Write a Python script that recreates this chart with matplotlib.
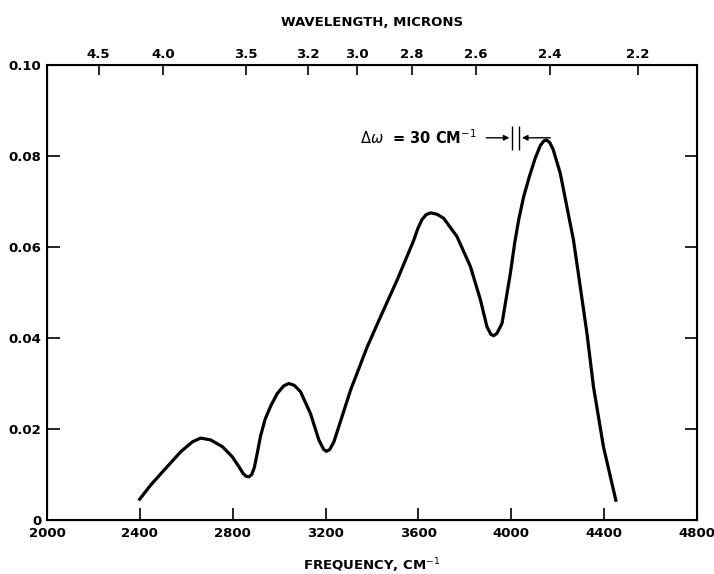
import matplotlib
matplotlib.use("Agg")
import matplotlib.pyplot as plt

# Data
freq = [2395, 2447, 2505, 2576, 2627, 2662, 2705, 2756, 2798, 2827, 2845, 2858, 2870, 2882,
        2893, 2905, 2920, 2940, 2965, 2992, 3020, 3042, 3065, 3092, 3135, 3171, 3192, 3204,
        3218, 3236, 3308, 3379, 3437, 3508, 3580, 3597, 3615, 3633, 3652, 3680, 3709, 3766,
        3824, 3867, 3895, 3912, 3924, 3938, 3960, 3996, 4015, 4032, 4053, 4078, 4103, 4125,
        4140, 4152, 4165, 4180, 4211, 4268, 4297, 4326, 4354, 4397, 4452]
absorb = [0.0043, 0.0077, 0.0110, 0.0150, 0.0172, 0.0180, 0.0176, 0.0161, 0.0139, 0.0117,
          0.0102, 0.0096, 0.0095, 0.0100, 0.0115, 0.0145, 0.0185, 0.0222, 0.0252, 0.0278,
          0.0295, 0.0300, 0.0296, 0.0282, 0.0234, 0.0176, 0.0155, 0.0151, 0.0155, 0.0172,
          0.0286, 0.0380, 0.0447, 0.0527, 0.0615, 0.0640, 0.0660, 0.0671, 0.0675, 0.0672,
          0.0663, 0.0623, 0.0557, 0.0484, 0.0425, 0.0408, 0.0405, 0.0410, 0.0432, 0.0542,
          0.0610, 0.0660, 0.0710, 0.0755, 0.0795, 0.0823, 0.0833, 0.0835, 0.0830, 0.0815,
          0.0762, 0.0615, 0.0513, 0.0410, 0.0293, 0.0161, 0.0040]

x_ticks = [2000, 2400, 2800, 3200, 3600, 4000, 4400, 4800]
y_ticks = [0, 0.02, 0.04, 0.06, 0.08, 0.10]
y_tick_labels = ["0", "0.02", "0.04", "0.06", "0.08", "0.10"]
wavelengths = [4.5, 4.0, 3.5, 3.2, 3.0, 2.8, 2.6, 2.4, 2.2]
wavelength_labels = ["4.5", "4.0", "3.5", "3.2", "3.0", "2.8", "2.6", "2.4", "2.2"]

plt.rcParams['font.family'] = ['DejaVu Sans']
FS = 9.5

fig = plt.figure(figsize=(7.14, 5.74), dpi=100)
ax = fig.add_axes([47/714, 1 - 520/574, (697 - 47)/714, (520 - 65)/574])

ax.plot(freq, absorb, color="black", lw=2.3, solid_capstyle="butt", solid_joinstyle="round")

ax.set_xlim(2000, 4800)
ax.set_ylim(0, 0.10)
ax.set_xticks(x_ticks)
ax.set_xticklabels([str(v) for v in x_ticks], fontsize=FS, fontweight="bold")
ax.set_yticks(y_ticks)
ax.set_yticklabels(y_tick_labels, fontsize=FS, fontweight="bold")
ax.tick_params(axis="both", direction="in", length=9, width=1.2)
ax.tick_params(axis="x", pad=5)
ax.tick_params(axis="y", right=True, pad=4)
for s in ax.spines.values():
    s.set_linewidth(1.5)

ax.set_xlabel("FREQUENCY, CM$^{-1}$", fontsize=FS, fontweight="bold", labelpad=12)

top = ax.twiny()
top.set_xlim(ax.get_xlim())
top.set_xticks([10000.0 / w for w in wavelengths])
top.set_xticklabels(wavelength_labels, fontsize=FS, fontweight="bold")
top.tick_params(axis="x", direction="in", length=7, width=1.2, pad=3)
top.set_xlabel("WAVELENGTH, MICRONS", fontsize=FS, fontweight="bold", labelpad=16)

# Resolution annotation
ax.text(3350, 0.0840, "$\\Delta\\omega$  = 30 CM$^{-1}$", fontsize=10.5,
        fontweight="bold", va="center", ha="left")
ax.annotate("", xy=(4004, 0.0840), xytext=(3880, 0.0840),
            arrowprops=dict(arrowstyle="-|>", color="black", lw=1.0, mutation_scale=8))
ax.annotate("", xy=(4034, 0.0840), xytext=(4180, 0.0840),
            arrowprops=dict(arrowstyle="-|>", color="black", lw=1.0, mutation_scale=8))
ax.vlines([4004, 4034], 0.0813, 0.0866, color="black", lw=1.0)

fig.savefig("out.png", dpi=100)
